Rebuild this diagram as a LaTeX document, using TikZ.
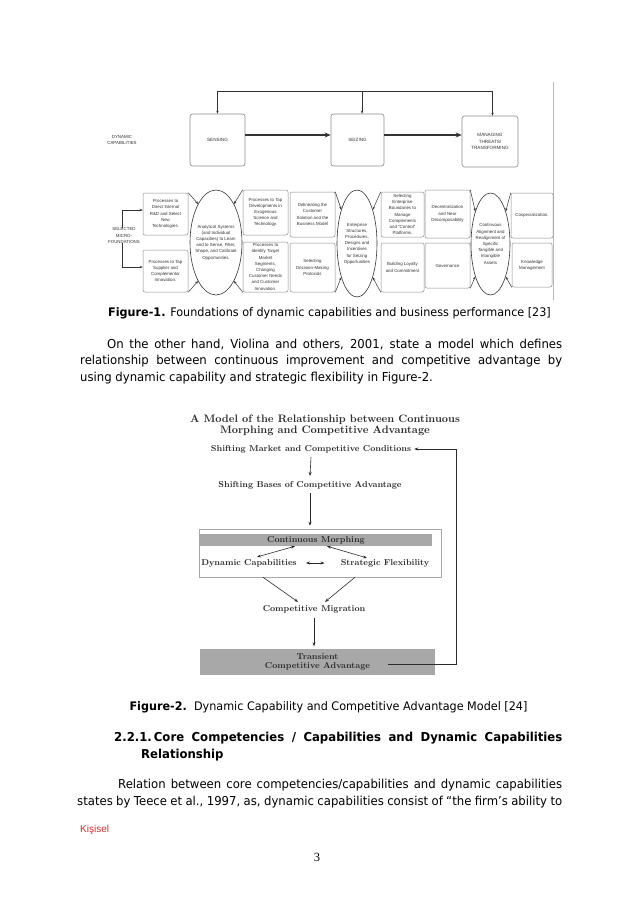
\documentclass[tikz,border=0pt]{standalone}
\usepackage{fontspec}
\usetikzlibrary{shapes.geometric,arrows.meta}
\newfontfamily\bodyf[FakeStretch=0.95]{DejaVu Sans}
\newfontfamily\arialf{Liberation Sans}
\newfontfamily\timesf{Liberation Serif}
\definecolor{ftxt}{HTML}{333333}
\definecolor{fbox}{HTML}{8C8C8C}
\definecolor{redk}{HTML}{D22B2B}
\definecolor{scan}{HTML}{2B2B2B}
\definecolor{band}{HTML}{A8A8A8}
\begin{document}
\begin{tikzpicture}[x=1pt,y=-1pt,
 mb/.style={draw=fbox, rounded corners=2pt, line width=0.5pt, inner sep=0pt, align=center, font=\arialf\fontsize{4.4}{6.2}\selectfont, text=ftxt},
 ell/.style={ellipse, draw=ftxt, line width=0.6pt, inner sep=0pt},
 etx/.style={align=center, font=\arialf\fontsize{4.4}{6.2}\selectfont, text=ftxt, inner sep=0pt},
 tb/.style={draw=fbox, rounded corners=2.5pt, line width=0.6pt, align=center, inner sep=0pt, font=\arialf\fontsize{4.6}{6.4}\selectfont, text=ftxt},
 sa/.style={-{Stealth[length=3pt,width=2.4pt]}, line width=0.5pt, draw=ftxt},
 big/.style={-{Stealth[length=6pt,width=5pt]}, line width=1.4pt, draw=ftxt},
 fb/.style={line width=0.5pt, draw=ftxt},
 body/.style={font=\bodyf\fontsize{12.3}{15}\selectfont, inner sep=0pt, anchor=base west},
 capt/.style={font=\bodyf\fontsize{11.8}{15}\selectfont, inner sep=0pt, anchor=base},
 s2/.style={font=\bfseries\fontsize{8.6}{9}\selectfont, text=scan, inner sep=0pt},
 a2/.style={-{Stealth[length=4pt,width=3pt]}, line width=0.6pt, draw=scan},
 a2d/.style={{Stealth[length=4pt,width=3pt]}-{Stealth[length=4pt,width=3pt]}, line width=0.6pt, draw=scan},
 ]
\useasboundingbox[fill=white] (0,0) rectangle (638,903);

% ---------------- Figure 1 ----------------
\node[etx] (DC) at (122,140) {DYNAMIC\\CAPABILITIES};
\node[tb, minimum width=55pt, minimum height=52pt] (SENS) at (217.5,140) {SENSING};
\node[tb, minimum width=53pt, minimum height=52pt] (SEIZ) at (357.5,140) {SEIZING};
\node[tb, minimum width=56pt, minimum height=51pt] (MAN) at (490,141.5) {MANAGING\\THREATS/\\TRANSFORMING};
\coordinate (TL) at (217.5,91);
\coordinate (TM) at (362,91);
\coordinate (TR) at (492.5,91);
\draw[fb] (TL) -- (TR);
\draw[sa] (TL) -- (SENS.north);
\draw[sa] (TM) -- (TM |- SEIZ.north);
\draw[sa] (TR) -- (TR |- MAN.north);
\draw[big] ([yshift=5pt]SENS.east) -- ([yshift=5pt]SEIZ.west);
\draw[big] ([yshift=5pt]SEIZ.east) -- ([yshift=6.5pt]MAN.west);
\draw[gray!55, line width=0.8pt] (553,82) -- (553,300);

\node[etx] (SMF) at (124,235.5) {SELECTED\\MICRO-\\FOUNDATIONS};
\node[mb, minimum width=45pt, minimum height=42pt] (A1) at (165.5,214) {Processes to\\Direct Internal\\R\&D and Select\\New\\Technologies.};
\node[mb, minimum width=45pt, minimum height=42pt] (A2) at (165.5,271) {Processes to Tap\\Supplier and\\Complementor\\Innovation.};
\coordinate (BT) at (122,210);
\coordinate (BB) at (122,267);
\draw[fb] (SMF.north -| BT) -- (BT);
\draw[sa] (BT) -- (BT -| A1.west);
\draw[fb] (SMF.south -| BB) -- (BB);
\draw[sa] (BB) -- (BB -| A2.west);

\node[ell, minimum width=52pt, minimum height=105pt] (E1) at (216,242.5) {};
\node[etx] (E1t) at (E1.center) {Analytical Systems\\(and Individual\\Capacities) to Learn\\and to Sense, Filter,\\Shape, and Calibrate\\Opportunities.};
\node[mb, minimum width=45pt, minimum height=45pt] (B1) at (265.5,212.5) {Processes to Tap\\Developments in\\Exogenous\\Science and\\Technology.};
\node[mb, minimum width=45pt, minimum height=50pt] (B2) at (265.5,267) {Processes to\\Identify Target\\Market\\Segments,\\Changing\\Customer Needs\\and Customer\\Innovation.};
\node[mb, minimum width=45pt, minimum height=45pt] (C1) at (312.5,214.5) {Delineating the\\Customer\\Solution and the\\Business Model};
\node[mb, minimum width=45pt, minimum height=49pt] (C2) at (312.5,267.5) {Selecting\\Decision-Making\\Protocols};
\node[ell, minimum width=40pt, minimum height=107pt] (E2) at (357,243.5) {};
\node[etx] (E2t) at (E2.center) {Enterprise\\Structures,\\Procedures,\\Designs and\\Incentives\\for Seizing\\Opportunities};
\node[mb, minimum width=43pt, minimum height=45pt] (D1) at (402.5,214.5) {Selecting\\Enterprise\\Boundaries to\\Manage\\Complements\\and “Control”\\Platforms.};
\node[mb, minimum width=43pt, minimum height=49pt] (D2) at (402.5,267.5) {Building Loyalty\\and Commitment};
\node[mb, minimum width=45pt, minimum height=48pt] (F1) at (447.5,214) {Decentralization\\and Near\\Decomposability};
\node[mb, minimum width=45pt, minimum height=45pt] (F2) at (447.5,265.5) {Governance};
\node[ell, minimum width=39pt, minimum height=102pt] (E3) at (490.5,244) {};
\node[etx] (E3t) at (E3.center) {Continuous\\Alignment and\\Realignment of\\Specific\\Tangible and\\Intangible\\Assets};
\node[mb, minimum width=42pt, minimum height=45pt] (G1) at (532,215.5) {Cospecialization.};
\node[mb, minimum width=40pt, minimum height=44pt] (G2) at (532,265) {Knowledge\\Management};

\draw[sa] (A1.north east) -- (E1.115);
\draw[sa] (A2.south east) -- (E1.245);
\draw[sa] (B1.north west) -- (E1.65);
\draw[sa] (B2.south west) -- (E1.295);
\draw[sa] (C1.north east) -- (E2.115);
\draw[sa] (C2.south east) -- (E2.245);
\draw[sa] (D1.north west) -- (E2.65);
\draw[sa] (D2.south west) -- (E2.295);
\draw[sa] (F1.north east) -- (E3.115);
\draw[sa] (F2.south east) -- (E3.245);
\draw[sa] (G1.north west) -- (E3.65);
\draw[sa] (G2.south west) -- (E3.295);

% ---------------- Text ----------------
\node[capt] (cap1) at (329.5,316.5) {\textbf{Figure-1.} Foundations of dynamic capabilities and business performance [23]};
\node[body] (p1) at (107,348) {\makebox[455pt][s]{On the other hand, Violina and others, 2001, state a model which defines}};
\node[body] (p2) at (80,364.5) {\makebox[482pt][s]{relationship between continuous improvement and competitive advantage by}};
\node[body] (p3) at (80,381) {using dynamic capability and strategic flexibility in Figure-2.};

% ---------------- Figure 2 ----------------
\node[s2, font=\bfseries\fontsize{10.8}{11.5}\selectfont, align=center] (T2) at (325,425.5) {A Model of the Relationship between Continuous\\Morphing and Competitive Advantage};
\node[s2] (SMC) at (311,449) {Shifting Market and Competitive Conditions};
\node[s2] (SBC) at (310,485) {Shifting Bases of Competitive Advantage};
\draw[a2] ([yshift=-4pt]SMC.south) -- ([yshift=5pt]SBC.north);
\node[draw=gray!70, line width=0.5pt, minimum width=242pt, minimum height=48pt, inner sep=0pt] (FR) at (320,553) {};
\draw[a2] ([yshift=-4pt]SBC.south) -- ([yshift=3pt]FR.north -| SBC.south);
\node[s2, fill=band, minimum width=232pt, minimum height=12pt] (CM) at (316,540) {Continuous Morphing};
\node[s2] (DCp) at (249,563) {Dynamic Capabilities};
\node[s2] (SF) at (385,563) {Strategic Flexibility};
\draw[a2d] ([xshift=9pt]DCp.east) -- ([xshift=-16pt]SF.west);
\draw[a2d] ([xshift=-21pt]CM.south) -- ([xshift=8pt,yshift=2pt]DCp.north);
\draw[a2d] ([xshift=11pt]CM.south) -- ([xshift=-18pt,yshift=1pt]SF.north);
\node[s2] (CMG) at (314,609) {Competitive Migration};
\draw[a2] ([xshift=-57pt]FR.south) -- ([xshift=-16pt,yshift=3pt]CMG.north);
\draw[a2] ([xshift=35pt]FR.south) -- ([xshift=11pt,yshift=3pt]CMG.north);
\node[s2, fill=band, minimum width=235pt, minimum height=26pt, align=center] (TCA) at (317.5,661.5) {Transient\\Competitive Advantage};
\draw[a2] ([yshift=-5pt]CMG.south) -- ([yshift=2pt]CMG.south |- TCA.north);
\coordinate (RS) at (388,664);
\coordinate (RC) at (456,664);
\coordinate (RT) at (456,449);
\draw[scan, line width=0.6pt] (RS) -- (RC) -- (RT);
\draw[a2] (RT) -- ([xshift=3pt]SMC.east);

% ---------------- Text ----------------
\node[capt] (cap2) at (328.5,710.5) {\textbf{Figure-2.}\ \ Dynamic Capability and Competitive Advantage Model [24]};
\node[body] (h1) at (114,741.5) {\makebox[448pt][s]{\bfseries 2.2.1.\hspace{2pt}Core Competencies / Capabilities and Dynamic Capabilities}};
\node[body] (h2) at (141,758.5) {\bfseries Relationship};
\node[body] (q1) at (118,788) {\makebox[444pt][s]{Relation between core competencies/capabilities and dynamic capabilities}};
\node[body] (q2) at (77,805) {\makebox[485pt][s]{states by Teece et al., 1997, as, dynamic capabilities consist of “the firm’s ability to}};
\node[inner sep=0pt, anchor=base west, text=redk, font=\arialf\fontsize{10}{12}\selectfont] (kis) at (80,832) {Kişisel};
\node[inner sep=0pt, anchor=base, font=\timesf\fontsize{12.5}{14}\selectfont] (pg) at (317,861) {3};
\end{tikzpicture}
\end{document}
